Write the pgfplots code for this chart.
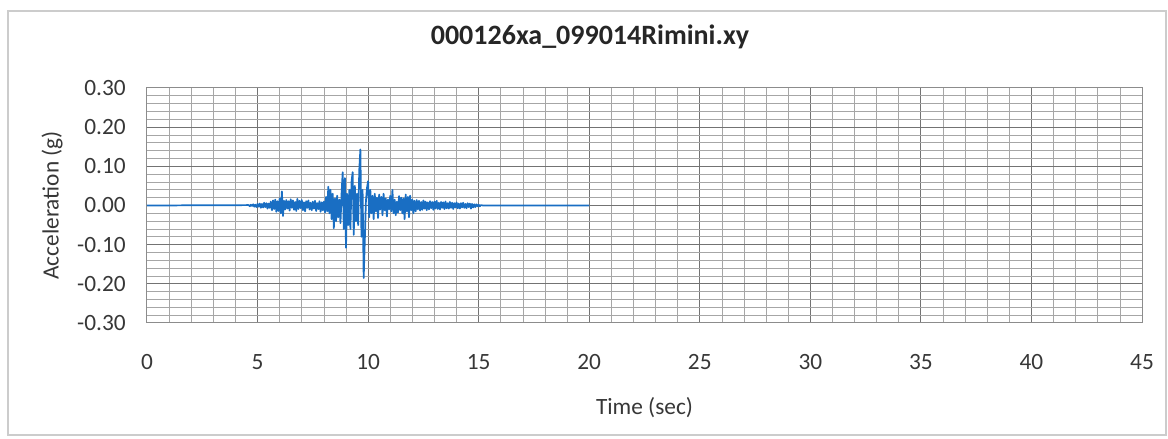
\documentclass[border=0pt]{standalone}
\usepackage{fontspec}
\setmainfont{Carlito}
\usepackage{pgfplots}
\pgfplotsset{compat=1.18}
\definecolor{sig}{RGB}{25,110,195}
\definecolor{txt}{RGB}{55,55,55}
\definecolor{ttl}{RGB}{38,38,38}
\pgfplotstableread{
t a
0 0
4.60 0.001
4.65 -0.002
4.70 0.002
4.75 -0.001
4.80 0.003
4.85 -0.003
4.90 0.002
4.95 -0.004
5.00 0.004
5.05 -0.003
5.10 0.005
5.15 -0.006
5.20 0.004
5.25 -0.005
5.30 0.007
5.35 -0.004
5.40 0.006
5.45 -0.008
5.50 0.005
5.55 -0.006
5.60 0.010
5.65 -0.012
5.70 0.013
5.75 -0.009
5.80 0.015
5.85 -0.016
5.90 0.011
5.95 -0.014
6.00 0.018
6.05 -0.020
6.10 0.036
6.15 -0.027
6.20 0.012
6.25 -0.010
6.30 0.014
6.35 -0.008
6.40 0.011
6.45 -0.013
6.50 0.016
6.55 -0.006
6.60 0.013
6.65 -0.011
6.70 0.009
6.75 -0.014
6.80 0.017
6.85 -0.009
6.90 0.012
6.95 -0.007
7.00 0.014
7.05 -0.012
7.10 0.008
7.15 -0.015
7.20 0.011
7.25 -0.006
7.30 0.013
7.35 -0.010
7.40 0.007
7.45 -0.012
7.50 0.010
7.55 -0.008
7.60 0.012
7.65 -0.014
7.70 0.006
7.75 -0.009
7.80 0.011
7.85 -0.016
7.90 0.008
7.95 -0.012
8.00 0.010
8.05 -0.018
8.10 0.022
8.15 -0.015
8.20 0.048
8.25 -0.020
8.30 0.040
8.35 -0.035
8.40 0.030
8.45 -0.058
8.50 0.018
8.55 -0.040
8.60 0.025
8.65 -0.030
8.70 0.015
8.75 -0.045
8.80 0.030
8.85 0.085
8.90 -0.060
8.95 0.070
9.00 -0.108
9.05 0.030
9.10 -0.050
9.15 0.040
9.20 -0.060
9.25 0.060
9.30 0.085
9.35 -0.075
9.40 0.050
9.45 -0.040
9.50 0.030
9.55 -0.050
9.60 0.090
9.65 0.143
9.70 -0.080
9.75 0.040
9.80 -0.185
9.85 -0.090
9.90 0.010
9.95 0.045
10.00 0.062
10.05 -0.030
10.10 0.040
10.15 -0.020
10.20 0.025
10.25 -0.035
10.30 0.030
10.35 -0.015
10.40 0.020
10.45 -0.032
10.50 0.028
10.55 -0.010
10.60 0.022
10.65 -0.025
10.70 0.030
10.75 -0.012
10.80 0.018
10.85 -0.028
10.90 0.015
10.95 -0.010
11.00 0.025
11.05 -0.015
11.10 0.040
11.15 -0.020
11.20 0.015
11.25 -0.025
11.30 0.010
11.35 -0.018
11.40 0.024
11.45 -0.012
11.50 0.020
11.55 -0.020
11.60 0.018
11.65 -0.035
11.70 0.028
11.75 -0.015
11.80 0.022
11.85 -0.030
11.90 0.025
11.95 -0.012
12.00 0.015
12.05 -0.020
12.10 0.012
12.15 -0.015
12.20 0.014
12.25 -0.010
12.30 0.012
12.35 -0.013
12.40 0.009
12.45 -0.011
12.50 0.013
12.55 -0.008
12.60 0.010
12.65 -0.012
12.70 0.008
12.75 -0.010
12.80 0.011
12.85 -0.007
12.90 0.009
12.95 -0.011
13.00 0.010
13.05 -0.008
13.10 0.012
13.15 -0.009
13.20 0.007
13.25 -0.010
13.30 0.009
13.35 -0.006
13.40 0.008
13.45 -0.009
13.50 0.010
13.55 -0.007
13.60 0.006
13.65 -0.008
13.70 0.009
13.75 -0.006
13.80 0.007
13.85 -0.009
13.90 0.006
13.95 -0.005
14.00 0.008
14.05 -0.007
14.10 0.005
14.15 -0.008
14.20 0.006
14.25 -0.005
14.30 0.007
14.35 -0.006
14.40 0.004
14.45 -0.007
14.50 0.006
14.55 -0.004
14.60 0.005
14.65 -0.008
14.70 0.004
14.75 -0.005
14.80 0.003
14.85 -0.004
14.90 0.003
14.95 -0.002
15.00 0.002
15.05 -0.002
15.10 0.001
15.20 0.000
20.00 0.000
}\accel
\begin{document}
\begin{tikzpicture}
\useasboundingbox (0,0) rectangle (876pt,329.25pt);
\draw[gray!40, line width=0.8pt] (6pt,3pt) rectangle (874.5pt,321pt);
\begin{axis}[
  at={(110.25pt,87pt)}, anchor=south west,
  scale only axis, width=746.25pt, height=176.25pt,
  xmin=0, xmax=45, ymin=-0.3, ymax=0.3,
  xtick={0,5,10,15,20,25,30,35,40,45},
  ytick={-0.3,-0.2,-0.1,0,0.1,0.2,0.3},
  minor x tick num=4, minor y tick num=4,
  grid=both,
  major grid style={draw=black!55, line width=0.75pt},
  minor grid style={draw=black!35, line width=0.55pt},
  axis line style={draw=black!45, line width=0.75pt},
  major tick length=0pt, minor tick length=0pt,
  /pgf/number format/assume math mode=true,
  tick label style={font=\fontsize{17.5}{20}\selectfont, text=txt, inner sep=0pt},
  yticklabel style={anchor=east, xshift=-15.75pt,
    /pgf/number format/.cd, fixed, fixed zerofill, precision=2},
  xticklabel style={anchor=north, yshift=-23.25pt},
  xlabel={Time (sec)},
  ylabel={Acceleration (g)},
  label style={font=\fontsize{17.5}{20}\selectfont, text=txt, inner sep=0pt},
  xlabel style={at={(axis description cs:0.5,0)}, anchor=base, yshift=-68.25pt},
  ylabel style={at={([xshift=-71.25pt]axis description cs:0,0.5)}, anchor=center},
  title={000126xa\_099014Rimini.xy},
  title style={at={(axis description cs:0.4452,1)}, anchor=base, yshift=26.25pt,
    inner sep=0pt, font=\bfseries\fontsize{21}{25}\selectfont, text=ttl},
]
\addplot[sig, line width=1.3pt, line join=round] table[x=t, y=a] {\accel};
\end{axis}
\end{tikzpicture}
\end{document}
